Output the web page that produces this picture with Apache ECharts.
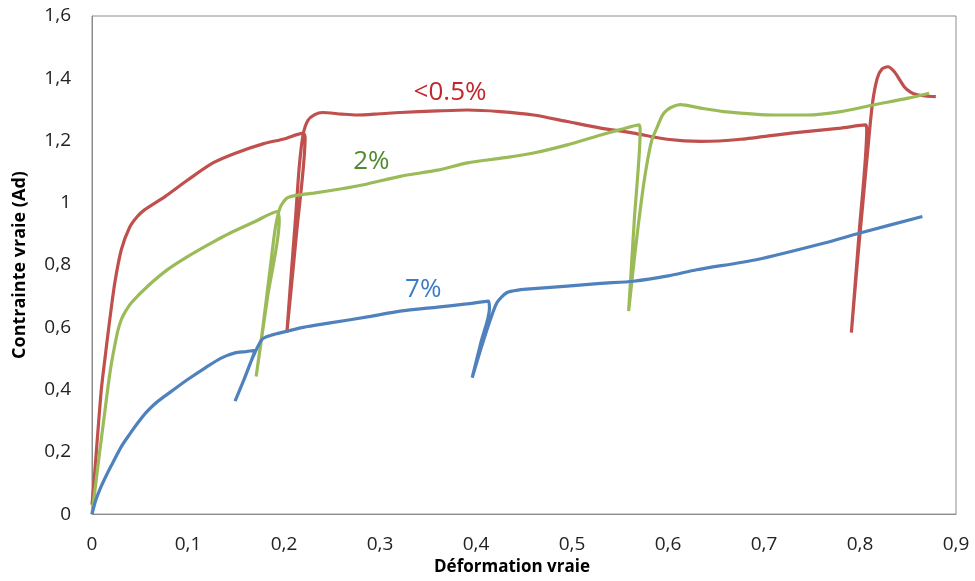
<!DOCTYPE html>
<html><head><meta charset="utf-8">
<script src="https://cdn.jsdelivr.net/npm/echarts@6/dist/echarts.min.js"></script>
<style>html,body{margin:0;padding:0;background:#fff}#c{width:975px;height:581px}</style>
</head><body><div id="c"></div>
<script>
// <0.5% (red)
const redX = [0,0.002,0.005,0.0097,0.0135,0.0175,0.0236,0.0306,0.039,0.047,0.055,0.076,0.1,0.126,0.15,0.179,0.2,0.22,0.222,0.213,0.203,0.207,0.212,0.216,0.22,0.225,0.232,0.24,0.26,0.276,0.3,0.321,0.36,0.391,0.425,0.46,0.495,0.53,0.564,0.599,0.634,0.676,0.728,0.78,0.806,0.807,0.799,0.791,0.797,0.803,0.809,0.813,0.818,0.823,0.829,0.836,0.846,0.853,0.86,0.868,0.879];
const redY = [0.03,0.1,0.22,0.4,0.5,0.6,0.74,0.85,0.92,0.955,0.978,1.02,1.074,1.128,1.16,1.19,1.205,1.224,1.21,0.9,0.583,0.75,0.95,1.12,1.22,1.265,1.283,1.29,1.285,1.282,1.286,1.29,1.295,1.298,1.293,1.282,1.261,1.24,1.224,1.204,1.197,1.204,1.224,1.24,1.25,1.235,0.9,0.583,0.8,1.0,1.2,1.32,1.4,1.43,1.437,1.42,1.373,1.355,1.347,1.343,1.341];
// 2% (green)
const greenX = [0,0.004,0.008,0.013,0.0167,0.02,0.0236,0.027,0.0306,0.035,0.041,0.058,0.079,0.1,0.125,0.144,0.17,0.193,0.195,0.183,0.171,0.178,0.186,0.191,0.196,0.203,0.215,0.231,0.26,0.283,0.321,0.36,0.391,0.43,0.46,0.495,0.53,0.55,0.57,0.571,0.565,0.559,0.566,0.572,0.577,0.583,0.589,0.594,0.599,0.606,0.613,0.634,0.658,0.71,0.745,0.78,0.815,0.85,0.872];
const greenY = [0,0.1,0.2,0.32,0.41,0.48,0.54,0.59,0.625,0.652,0.679,0.732,0.786,0.828,0.872,0.903,0.94,0.972,0.94,0.7,0.442,0.6,0.8,0.92,0.985,1.015,1.025,1.031,1.045,1.058,1.085,1.105,1.128,1.145,1.16,1.186,1.218,1.235,1.25,1.23,0.95,0.652,0.85,1.0,1.106,1.2,1.245,1.28,1.298,1.31,1.315,1.304,1.293,1.282,1.282,1.293,1.315,1.336,1.352];
// 7% (blue)
const blueX = [0,0.004,0.008,0.013,0.02,0.031,0.04,0.048,0.056,0.065,0.074,0.083,0.1,0.118,0.135,0.149,0.16,0.17,0.16,0.149,0.158,0.167,0.177,0.186,0.196,0.22,0.248,0.29,0.321,0.36,0.39,0.413,0.414,0.405,0.396,0.405,0.415,0.422,0.432,0.445,0.46,0.53,0.564,0.6,0.63,0.693,0.763,0.8,0.865];
const blueY = [0,0.045,0.078,0.112,0.155,0.219,0.26,0.294,0.325,0.353,0.375,0.395,0.433,0.47,0.502,0.518,0.522,0.526,0.445,0.363,0.43,0.5,0.561,0.574,0.582,0.6,0.614,0.635,0.652,0.665,0.675,0.684,0.66,0.55,0.438,0.53,0.625,0.68,0.711,0.72,0.724,0.741,0.748,0.765,0.785,0.818,0.871,0.903,0.956];

const seriesNames = ['<0.5%','2%','7%'];
const labelX = [0.373,0.291,0.345];
const labelY = [1.353,1.132,0.721];
const xTicks = [0,0.1,0.2,0.3,0.4,0.5,0.6,0.7,0.8,0.9];
const yTicks = [0,0.2,0.4,0.6,0.8,1,1.2,1.4,1.6];

const lineColors = ['#C0504D','#9BBB59','#4F81BD'];
const labelColors = ['#C0282D','#4F8A2F','#3D7CC4'];
const xs = [redX, greenX, blueX], ys = [redY, greenY, blueY];
const FONT = 'Open Sans';
const fmt = v => String(v).replace('.', ',');

const chart = echarts.init(document.getElementById('c'), null, {renderer:'canvas'});
chart.setOption({
  animation:false,
  grid:{left:92,right:19,top:16,bottom:66,show:true,borderColor:'#8C8C8C',borderWidth:1,backgroundColor:'transparent'},
  xAxis:{type:'value',min:xTicks[0],max:xTicks[xTicks.length-1],interval:0.1,
    name:'Déformation vraie',nameLocation:'middle',nameGap:42,
    nameTextStyle:{fontFamily:FONT,fontWeight:'bold',fontSize:17,color:'#000',padding:[0,24,0,0]},
    axisLine:{lineStyle:{color:'#8C8C8C'}},axisTick:{show:false},splitLine:{show:false},
    axisLabel:{formatter:fmt,fontFamily:FONT,fontSize:19,color:'#222',margin:21}},
  yAxis:{type:'value',min:yTicks[0],max:yTicks[yTicks.length-1],interval:0.2,
    name:'Contrainte vraie (Ad)',nameLocation:'middle',nameGap:63,
    nameTextStyle:{fontFamily:FONT,fontWeight:'bold',fontSize:18,color:'#000'},
    axisLine:{show:true,lineStyle:{color:'#8C8C8C'}},axisTick:{show:false},splitLine:{show:false},
    axisLabel:{formatter:fmt,fontFamily:FONT,fontSize:19,color:'#222',margin:21}},
  series: seriesNames.map((n,i)=>({
    name:n,type:'line',showSymbol:false,symbol:'none',smooth:0.25,
    data: xs[i].map((x,k)=>[x, ys[i][k]]),
    lineStyle:{color:lineColors[i],width:3.2},
    markPoint:{symbol:'circle',symbolSize:0,
      data:[{coord:[labelX[i],labelY[i]],value:n}],
      label:{show:true,formatter:n,position:'inside',fontFamily:FONT,fontSize:26,color:labelColors[i]}}
  }))
});
</script></body></html>
